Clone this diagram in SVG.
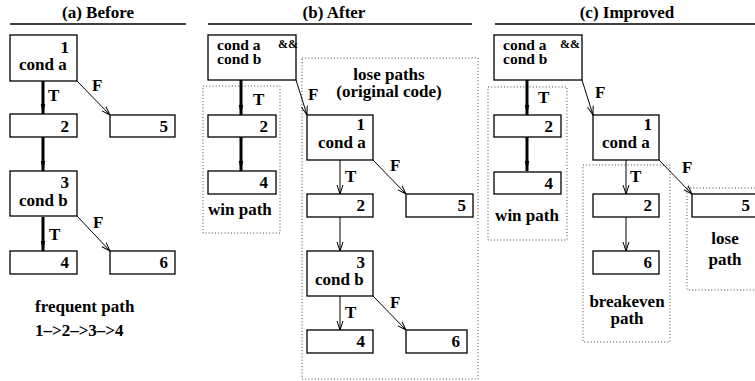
<svg xmlns="http://www.w3.org/2000/svg" width="755" height="381" viewBox="0 0 755 381" font-family="'Liberation Serif', 'DejaVu Serif', serif" font-weight="bold">
<defs>
<style>
text{font-family:'Liberation Serif','DejaVu Serif',serif;font-weight:700;font-size:17px;fill:#000}
.num{text-anchor:end}
.mid{text-anchor:middle}
.sm{font-size:12px}
.cb{font-size:15.5px}
.box{fill:#fff;stroke:#000;stroke-width:1.3}
.reg{fill:none;stroke:#444;stroke-width:1;stroke-dasharray:1 2.2}
.rule{stroke:#000;stroke-width:1.5}
.thick{stroke:#000;stroke-width:3;fill:none;marker-end:url(#hk)}
.thin{stroke:#000;stroke-width:1;fill:none;marker-end:url(#hn)}
</style>
<marker id="hk" markerUnits="userSpaceOnUse" markerWidth="12" markerHeight="8" refX="10" refY="4" orient="auto" viewBox="0 0 12 8">
<path d="M0,1.8 L10,4 L0,6.2 z" fill="#000"/>
</marker>
<marker id="hn" markerUnits="userSpaceOnUse" markerWidth="12" markerHeight="8" refX="9" refY="4" orient="auto" viewBox="0 0 12 8">
<path d="M0,1 L9,4 L0,7" fill="none" stroke="#000" stroke-width="1"/>
</marker>
</defs>
<rect width="755" height="381" fill="#fff"/>

<g id="titles">
<text class="mid" x="98" y="18">(a) Before</text>
<line class="rule" x1="10" y1="24" x2="186" y2="24"/>
<text class="mid" x="334" y="18">(b) After</text>
<line class="rule" x1="208" y1="24" x2="472" y2="24"/>
<text class="mid" x="627" y="18">(c) Improved</text>
<line class="rule" x1="495" y1="24" x2="755" y2="24"/>
</g>

<g id="regions">
<rect class="reg" x="203" y="86" width="77" height="147"/>
<text x="208" y="215">win path</text>
<rect class="reg" x="302" y="58" width="176" height="321"/>
<text class="mid" x="389" y="80">lose paths</text>
<text class="mid" x="389" y="97">(original code)</text>
<rect class="reg" x="488" y="87" width="79" height="153"/>
<text class="mid" x="527" y="221">win path</text>
<rect class="reg" x="583" y="165" width="87" height="177"/>
<text class="mid" x="627" y="307">breakeven</text>
<text class="mid" x="627" y="324">path</text>
<rect class="reg" x="687" y="188" width="80" height="102"/>
<text class="mid" x="725" y="244">lose</text>
<text class="mid" x="725" y="265">path</text>
<text x="35" y="312">frequent path</text>
<text x="35" y="336">1–&gt;2–&gt;3–&gt;4</text>
</g>

<g id="connectors">
<line class="thick" x1="43" y1="81" x2="43" y2="114"/>
<line class="thin" x1="77" y1="81" x2="110" y2="115"/>
<line class="thick" x1="43" y1="137" x2="43" y2="171"/>
<line class="thick" x1="43" y1="217" x2="43" y2="251"/>
<line class="thin" x1="77" y1="216" x2="110" y2="251"/>
<text x="48" y="101">T</text>
<text x="92" y="91">F</text>
<text x="49" y="240">T</text>
<text x="93" y="228">F</text>

<line class="thick" x1="241" y1="80" x2="241" y2="115"/>
<line class="thick" x1="241" y1="137" x2="241" y2="171"/>
<line class="thin" x1="296" y1="80" x2="307" y2="115"/>
<line class="thin" x1="340" y1="160" x2="340" y2="194"/>
<line class="thin" x1="373" y1="160" x2="406" y2="194"/>
<line class="thin" x1="340" y1="217" x2="340" y2="251"/>
<line class="thin" x1="340" y1="296" x2="340" y2="330"/>
<line class="thin" x1="373" y1="296" x2="406" y2="330"/>
<text x="253" y="105">T</text>
<text x="308" y="100">F</text>
<text x="345" y="182">T</text>
<text x="390" y="171">F</text>
<text x="345" y="318">T</text>
<text x="390" y="308">F</text>

<line class="thick" x1="527" y1="80" x2="527" y2="115"/>
<line class="thick" x1="527" y1="137" x2="527" y2="171"/>
<line class="thin" x1="582" y1="80" x2="593" y2="115"/>
<line class="thin" x1="626" y1="160" x2="626" y2="194"/>
<line class="thin" x1="659" y1="160" x2="692" y2="194"/>
<line class="thin" x1="626" y1="217" x2="626" y2="251"/>
<text x="538" y="103">T</text>
<text x="595" y="98">F</text>
<text x="630" y="182">T</text>
<text x="682" y="173">F</text>
</g>

<g id="a1"><rect class="box" x="10" y="35" width="67" height="46"/><text class="num" x="69" y="53">1</text><text x="19" y="70">cond a</text></g>
<g id="a2"><rect class="box" x="10" y="114" width="67" height="23"/><text class="num" x="69" y="132">2</text></g>
<g id="a5"><rect class="box" x="110" y="115" width="65" height="22"/><text class="num" x="168" y="132">5</text></g>
<g id="a3"><rect class="box" x="10" y="171" width="67" height="45"/><text class="num" x="69" y="188">3</text><text x="19" y="206">cond b</text></g>
<g id="a4"><rect class="box" x="10" y="251" width="67" height="23"/><text class="num" x="69" y="268">4</text></g>
<g id="a6"><rect class="box" x="110" y="251" width="65" height="23"/><text class="num" x="168" y="268">6</text></g>

<g id="b0"><rect class="box" x="208" y="35" width="88" height="45"/><text class="cb" x="217" y="50">cond a</text><text class="sm" x="278" y="48">&amp;&amp;</text><text class="cb" x="217" y="64">cond b</text></g>
<g id="b2w"><rect class="box" x="208" y="115" width="68" height="22"/><text class="num" x="268" y="132">2</text></g>
<g id="b4w"><rect class="box" x="208" y="171" width="68" height="23"/><text class="num" x="268" y="188">4</text></g>
<g id="b1"><rect class="box" x="307" y="115" width="66" height="45"/><text class="num" x="365" y="130">1</text><text x="318" y="148">cond a</text></g>
<g id="b2"><rect class="box" x="307" y="194" width="66" height="23"/><text class="num" x="365" y="211">2</text></g>
<g id="b5"><rect class="box" x="406" y="194" width="67" height="23"/><text class="num" x="466" y="211">5</text></g>
<g id="b3"><rect class="box" x="307" y="251" width="66" height="45"/><text class="num" x="365" y="268">3</text><text x="315" y="285">cond b</text></g>
<g id="b4"><rect class="box" x="307" y="330" width="66" height="23"/><text class="num" x="365" y="347">4</text></g>
<g id="b6"><rect class="box" x="406" y="330" width="61" height="23"/><text class="num" x="460" y="347">6</text></g>

<g id="c0"><rect class="box" x="494" y="35" width="88" height="45"/><text class="cb" x="503" y="50">cond a</text><text class="sm" x="560" y="48">&amp;&amp;</text><text class="cb" x="503" y="64">cond b</text></g>
<g id="c2w"><rect class="box" x="494" y="115" width="67" height="22"/><text class="num" x="553" y="132">2</text></g>
<g id="c4w"><rect class="box" x="494" y="172" width="67" height="22"/><text class="num" x="553" y="189">4</text></g>
<g id="c1"><rect class="box" x="593" y="115" width="66" height="45"/><text class="num" x="652" y="130">1</text><text x="602" y="148">cond a</text></g>
<g id="c2"><rect class="box" x="593" y="194" width="66" height="23"/><text class="num" x="652" y="211">2</text></g>
<g id="c6"><rect class="box" x="593" y="251" width="66" height="23"/><text class="num" x="652" y="268">6</text></g>
<g id="c5"><rect class="box" x="692" y="194" width="70" height="23"/><text class="num" x="750" y="211">5</text></g>
</svg>
